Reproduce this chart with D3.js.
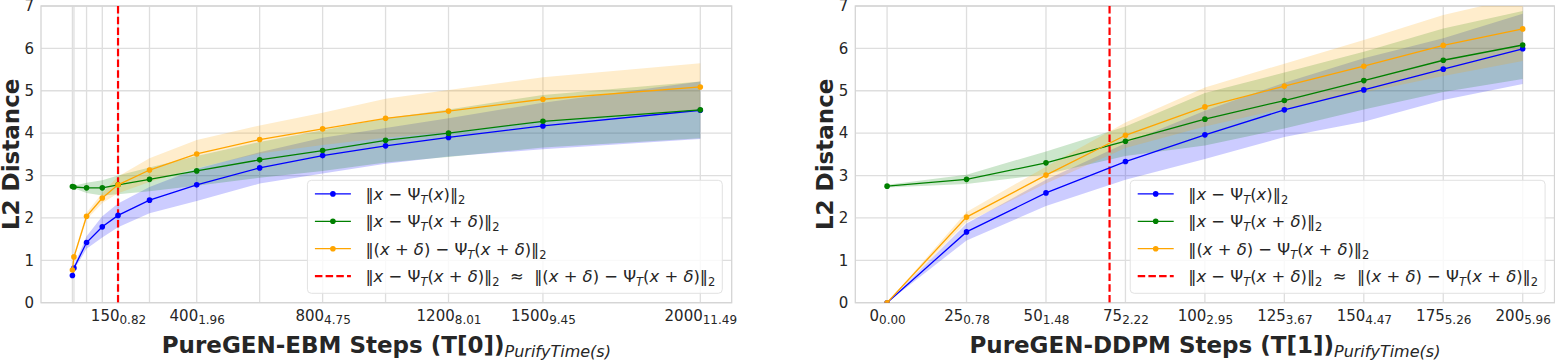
<!DOCTYPE html>
<html>
<head>
<meta charset="utf-8">
<script src="https://cdn.jsdelivr.net/npm/d3@7"></script>
<style>
  body { margin: 0; background: #fff; }
  svg { display: block; font-family: "DejaVu Sans", sans-serif; }
</style>
</head>
<body>
<svg id="chart" width="1555" height="361"></svg>
<script>
// ---- PureGEN-EBM (left) ----
const ebmSteps = [5, 10, 50, 100, 150, 250, 400, 600, 800, 1000, 1200, 1500, 2000];
const ebmClean = [0.64, 0.82, 1.42, 1.79, 2.06, 2.42, 2.78, 3.18, 3.47, 3.70, 3.90, 4.17, 4.54];
const ebmCleanStd = [0.02, 0.05, 0.15, 0.25, 0.28, 0.31, 0.38, 0.37, 0.42, 0.42, 0.45, 0.55, 0.68];
const ebmAdv = [2.74, 2.73, 2.71, 2.71, 2.78, 2.91, 3.11, 3.37, 3.59, 3.83, 4.00, 4.28, 4.55];
const ebmAdvStd = [0.03, 0.03, 0.12, 0.18, 0.22, 0.28, 0.35, 0.42, 0.48, 0.52, 0.56, 0.62, 0.67];
const ebmSelf = [0.77, 1.08, 2.04, 2.47, 2.78, 3.13, 3.51, 3.85, 4.10, 4.35, 4.52, 4.80, 5.09];
const ebmSelfStd = [0.03, 0.05, 0.08, 0.12, 0.2, 0.28, 0.33, 0.33, 0.38, 0.46, 0.5, 0.52, 0.56];
const ebmLabelSteps = [150, 400, 800, 1200, 1500, 2000];
const ebmLabelTimes = ["0.82", "1.96", "4.75", "8.01", "9.45", "11.49"];
const ebmCross = 150;

// ---- PureGEN-DDPM (right) ----
const ddpmSteps = [0, 25, 50, 75, 100, 125, 150, 175, 200];
const ddpmClean = [0.0, 1.67, 2.59, 3.33, 3.96, 4.55, 5.02, 5.51, 5.99];
const ddpmCleanStd = [0.0, 0.2, 0.31, 0.43, 0.57, 0.64, 0.75, 0.73, 0.83];
const ddpmAdv = [2.75, 2.91, 3.30, 3.81, 4.33, 4.77, 5.24, 5.72, 6.08];
const ddpmAdvStd = [0.03, 0.11, 0.27, 0.35, 0.62, 0.66, 0.68, 0.75, 0.8];
const ddpmSelf = [0.0, 2.02, 3.01, 3.95, 4.62, 5.11, 5.58, 6.07, 6.46];
const ddpmSelfStd = [0.0, 0.12, 0.2, 0.3, 0.46, 0.53, 0.62, 0.72, 0.76];
const ddpmLabelSteps = [0, 25, 50, 75, 100, 125, 150, 175, 200];
const ddpmLabelTimes = ["0.00", "0.78", "1.48", "2.22", "2.95", "3.67", "4.47", "5.26", "5.96"];
const ddpmCross = 70;

const yTicks = [0, 1, 2, 3, 4, 5, 6, 7];

// legend labels, mathtext-like pieces: "" normal, "i" italic, "s" subscript, "si" italic subscript
const lblClean = [["‖", ""], ["x", "i"], [" − Ψ", ""], ["T", "si"], ["(", ""], ["x", "i"], [")‖", ""], ["2", "s"]];
const lblAdv = [["‖", ""], ["x", "i"], [" − Ψ", ""], ["T", "si"], ["(", ""], ["x", "i"], [" + ", ""], ["δ", "i"], [")‖", ""], ["2", "s"]];
const lblSelf = [["‖(", ""], ["x", "i"], [" + ", ""], ["δ", "i"], [") − Ψ", ""], ["T", "si"], ["(", ""], ["x", "i"], [" + ", ""], ["δ", "i"], [")‖", ""], ["2", "s"]];
const lblCross = lblAdv.concat([["  ≈  ", ""]], lblSelf);

const colClean = "#0000ff", colAdv = "#008000", colSelf = "#ffa500";

const svg = d3.select("#chart");
const plotTop = 6, plotBottom = 302.7;

function mathText(sel, parts, size) {
  let cur = 0;
  parts.forEach(([s, k]) => {
    const sub = k.includes("s");
    const target = sub ? size * 0.25 : 0;
    sel.append("tspan")
      .attr("dy", target - cur)
      .attr("font-size", sub ? size * 0.7 : size)
      .attr("font-style", k.includes("i") ? "italic" : "normal")
      .text(s);
    cur = target;
  });
}

function drawPanel(p, idx) {
  const g = svg.append("g");
  const lo = d3.min(p.steps), hi = d3.max(p.steps), pad = (hi - lo) * 0.05;
  const x = d3.scaleLinear().domain([lo - pad, hi + pad]).range([p.left, p.right]);
  const y = d3.scaleLinear().domain([0, 7]).range([plotBottom, plotTop]);

  // grid
  g.append("g").selectAll("line").data(yTicks).join("line")
    .attr("x1", p.left).attr("x2", p.right)
    .attr("y1", d => y(d)).attr("y2", d => y(d))
    .attr("stroke", "#dedede").attr("stroke-width", 1.3);
  g.append("g").selectAll("line").data(p.steps).join("line")
    .attr("x1", d => x(d)).attr("x2", d => x(d))
    .attr("y1", plotTop).attr("y2", plotBottom)
    .attr("stroke", "#dedede").attr("stroke-width", 1.3);
  g.append("rect")
    .attr("x", p.left).attr("y", plotTop)
    .attr("width", p.right - p.left).attr("height", plotBottom - plotTop)
    .attr("fill", "none").attr("stroke", "#d4d4d4").attr("stroke-width", 1.3);

  const clipId = "clip" + idx;
  g.append("clipPath").attr("id", clipId).append("rect")
    .attr("x", p.left).attr("y", plotTop)
    .attr("width", p.right - p.left).attr("height", plotBottom - plotTop);
  const plot = g.append("g").attr("clip-path", `url(#${clipId})`);

  // bands
  p.series.forEach(s => {
    const area = d3.area()
      .x((d, i) => x(p.steps[i]))
      .y0((d, i) => y(d - s.std[i]))
      .y1((d, i) => y(d + s.std[i]));
    plot.append("path").datum(s.values).attr("d", area)
      .attr("fill", s.color).attr("fill-opacity", 0.2);
  });

  // red dashed marker
  plot.append("line")
    .attr("x1", x(p.cross)).attr("x2", x(p.cross))
    .attr("y1", plotTop).attr("y2", plotBottom)
    .attr("stroke", "#ff0000").attr("stroke-width", 2.2)
    .attr("stroke-dasharray", "7.5,3.2");

  // lines + markers
  p.series.forEach(s => {
    const line = d3.line().x((d, i) => x(p.steps[i])).y(d => y(d));
    plot.append("path").datum(s.values).attr("d", line)
      .attr("fill", "none").attr("stroke", s.color).attr("stroke-width", 1.3);
    plot.append("g").selectAll("circle").data(s.values).join("circle")
      .attr("cx", (d, i) => x(p.steps[i])).attr("cy", d => y(d))
      .attr("r", 2.8).attr("fill", s.color);
  });

  // axes
  const xAxis = g.append("g").attr("transform", `translate(0,${plotBottom})`)
    .call(d3.axisBottom(x).tickValues(p.labelSteps).tickSize(0).tickPadding(8));
  xAxis.select(".domain").remove();
  xAxis.selectAll("text").each(function (d, i) {
    const t = d3.select(this).text(null).attr("font-size", 15).attr("fill", "#262626")
      .attr("font-family", "DejaVu Sans");
    t.append("tspan").text(d);
    t.append("tspan").attr("font-size", 12).attr("dy", 2.5).text(p.labelTimes[i]);
  });

  const yAxis = g.append("g").attr("transform", `translate(${p.left},0)`)
    .call(d3.axisLeft(y).tickValues(yTicks).tickFormat(d3.format("d")).tickSize(0).tickPadding(7));
  yAxis.select(".domain").remove();
  yAxis.selectAll("text").attr("font-size", 15).attr("fill", "#262626")
    .attr("font-family", "DejaVu Sans");

  // axis titles
  g.append("text")
    .attr("transform", `translate(${p.left - 22.4},${(plotTop + plotBottom) / 2}) rotate(-90)`)
    .attr("text-anchor", "middle").attr("font-size", 23).attr("font-weight", "bold")
    .attr("fill", "#262626").text("L2 Distance");
  const xt = g.append("text")
    .attr("x", (p.left + p.right) / 2).attr("y", 352.7)
    .attr("text-anchor", "middle").attr("fill", "#262626");
  xt.append("tspan").attr("font-size", 23).attr("font-weight", "bold").text(p.xTitle);
  xt.append("tspan").attr("font-size", 16).attr("font-style", "italic").attr("dy", 4).text("PurifyTime(s)");

  // legend
  const lg = g.append("g");
  const box = lg.append("rect");
  const rows = p.series.map(s => ({ color: s.color, label: s.label, dash: false }))
    .concat([{ color: "#ff0000", label: lblCross, dash: true }]);
  const rowH = 27.4, lgH = 113, fs = 16.4;
  const inner = lg.append("g");
  rows.forEach((r, i) => {
    const cy = 13.6 + i * rowH;
    inner.append("line").attr("x1", 7.5).attr("x2", 43.5).attr("y1", cy).attr("y2", cy)
      .attr("stroke", r.color).attr("stroke-width", r.dash ? 2.2 : 1.3)
      .attr("stroke-dasharray", r.dash ? "7.5,3.2" : null);
    if (!r.dash) inner.append("circle").attr("cx", 25.5).attr("cy", cy).attr("r", 2.8).attr("fill", r.color);
    const t = inner.append("text").attr("x", 58).attr("y", cy + 6)
      .attr("fill", "#262626").style("white-space", "pre");
    mathText(t, r.label, fs);
  });
  const w = inner.node().getBBox();
  const lgW = w.x + w.width + 7;
  const lx = p.right - 9.4 - lgW, ly = plotBottom - 9.4 - lgH;
  lg.attr("transform", `translate(${lx},${ly})`);
  box.attr("width", lgW).attr("height", lgH).attr("rx", 4)
    .attr("fill", "#fff").attr("fill-opacity", 0.8)
    .attr("stroke", "#e2e2e2").attr("stroke-width", 1);
}

drawPanel({
  left: 41, right: 731.7,
  steps: ebmSteps, cross: ebmCross,
  labelSteps: ebmLabelSteps, labelTimes: ebmLabelTimes,
  xTitle: "PureGEN-EBM Steps (T[0])",
  series: [
    { values: ebmClean, std: ebmCleanStd, color: colClean, label: lblClean },
    { values: ebmAdv, std: ebmAdvStd, color: colAdv, label: lblAdv },
    { values: ebmSelf, std: ebmSelfStd, color: colSelf, label: lblSelf }
  ]
}, 0);

drawPanel({
  left: 855.3, right: 1554.5,
  steps: ddpmSteps, cross: ddpmCross,
  labelSteps: ddpmLabelSteps, labelTimes: ddpmLabelTimes,
  xTitle: "PureGEN-DDPM Steps (T[1])",
  series: [
    { values: ddpmClean, std: ddpmCleanStd, color: colClean, label: lblClean },
    { values: ddpmAdv, std: ddpmAdvStd, color: colAdv, label: lblAdv },
    { values: ddpmSelf, std: ddpmSelfStd, color: colSelf, label: lblSelf }
  ]
}, 1);
</script>
</body>
</html>
